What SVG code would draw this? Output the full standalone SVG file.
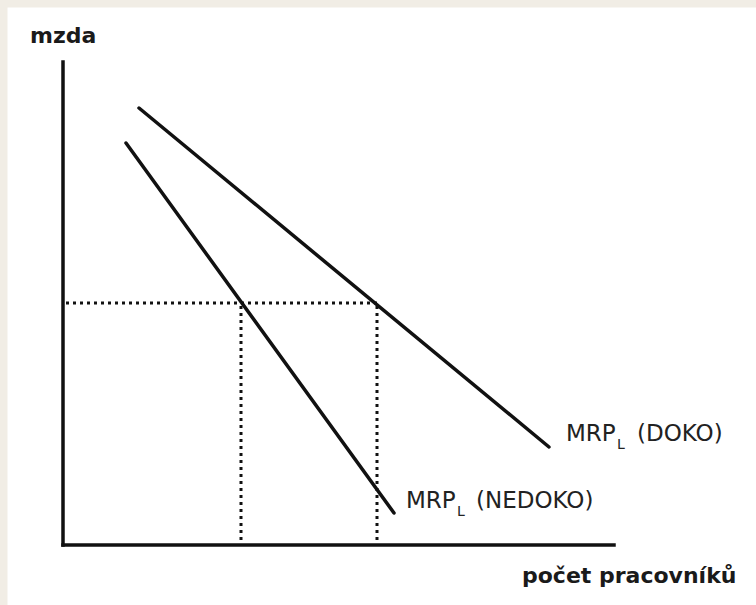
<svg xmlns="http://www.w3.org/2000/svg" width="756" height="605" viewBox="0 0 756 605">
<style>
.axis{stroke:#111;stroke-width:3.5;fill:none;stroke-linecap:square}
.curve{stroke:#111;stroke-width:3.5;fill:none;stroke-linecap:round}
.dot{stroke:#111;stroke-width:3;fill:none;stroke-dasharray:3 4}
.lbl{font-family:"DejaVu Sans","Verdana",sans-serif;font-size:23px;fill:#222}
.ttl{font-family:"DejaVu Sans","Verdana",sans-serif;font-size:22px;font-weight:bold;fill:#1a1a1a}
.sub{font-size:14px}
</style>
<rect x="0" y="0" width="756" height="605" fill="#f1ede5"/>
<rect x="7.5" y="7.5" width="748.5" height="597.5" fill="#ffffff"/>
<g id="axes">
<line class="axis" x1="63" y1="62" x2="63" y2="545"/>
<line class="axis" x1="63" y1="545" x2="614" y2="545"/>
</g>
<g id="connectors">
<line class="dot" x1="66" y1="303" x2="377" y2="303"/>
<line class="dot" x1="241" y1="306" x2="241" y2="543"/>
<line class="dot" x1="377" y1="306" x2="377" y2="543"/>
</g>
<g id="mrp-doko">
<line class="curve" x1="139" y1="108" x2="549" y2="447"/>
<text class="lbl" y="441"><tspan x="566">MRP</tspan><tspan x="617" y="449" class="sub">L</tspan><tspan x="637" y="441">(DOKO)</tspan></text>
</g>
<g id="mrp-nedoko">
<line class="curve" x1="126" y1="143" x2="394" y2="513"/>
<text class="lbl" y="508"><tspan x="406">MRP</tspan><tspan x="457" y="516" class="sub">L</tspan><tspan x="476" y="508">(NEDOKO)</tspan></text>
</g>
<g id="label-mzda">
<text class="ttl" x="30" y="43">mzda</text>
</g>
<g id="label-pocet">
<text class="ttl" x="522" y="583">počet pracovníků</text>
</g>
</svg>
